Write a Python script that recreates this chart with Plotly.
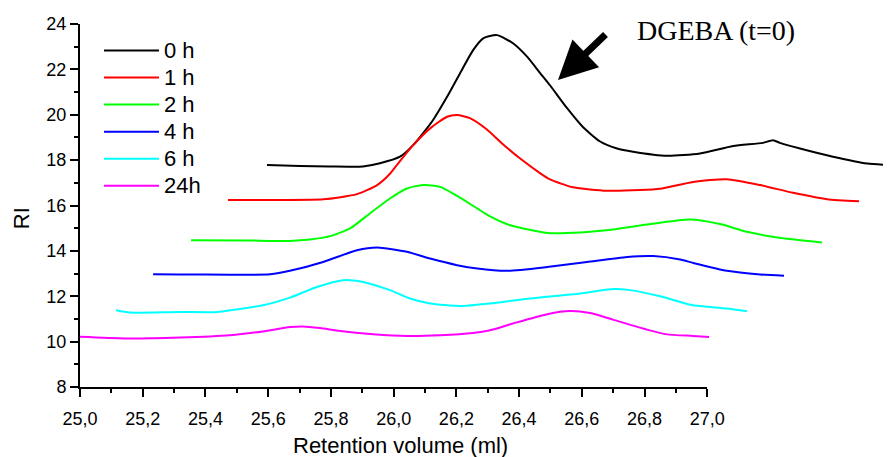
import plotly.graph_objects as go

# ---------------- data ----------------
series_names = ["0 h", "1 h", "2 h", "4 h", "6 h", "24h"]
series_colors = ["#000000", "#ff0000", "#00ff00", "#0000ff", "#00ffff", "#ff00ff"]

x_0h = [25.596, 25.701, 25.797, 25.902, 25.956, 26.020, 26.062, 26.093, 26.125, 26.170,
        26.211, 26.253, 26.285, 26.329, 26.380, 26.425, 26.466, 26.498, 26.552, 26.603,
        26.658, 26.712, 26.763, 26.871, 26.976, 27.082, 27.177, 27.209, 27.231, 27.295,
        27.400, 27.509, 27.585]
y_0h = [17.78, 17.74, 17.72, 17.72, 17.86, 18.15, 18.66, 19.18, 19.76, 20.79,
        21.82, 22.85, 23.37, 23.51, 23.15, 22.56, 21.85, 21.30, 20.30, 19.46,
        18.82, 18.51, 18.37, 18.19, 18.29, 18.62, 18.76, 18.88, 18.76, 18.51,
        18.15, 17.85, 17.78]

x_1h = [25.472, 25.638, 25.775, 25.883, 25.947, 25.988, 26.011, 26.062, 26.116, 26.170,
        26.202, 26.243, 26.297, 26.348, 26.403, 26.466, 26.498, 26.572, 26.680, 26.785,
        26.849, 26.954, 27.062, 27.168, 27.273, 27.381, 27.483]
y_1h = [16.24, 16.24, 16.27, 16.50, 16.90, 17.40, 17.80, 18.66, 19.40, 19.91,
        19.99, 19.85, 19.35, 18.70, 18.07, 17.43, 17.15, 16.80, 16.65, 16.68,
        16.74, 17.04, 17.16, 16.90, 16.56, 16.28, 16.19]

x_2h = [25.354, 25.530, 25.669, 25.733, 25.797, 25.861, 25.924, 25.988, 26.042, 26.093,
        26.148, 26.202, 26.266, 26.307, 26.371, 26.489, 26.594, 26.699, 26.807, 26.945,
        27.040, 27.126, 27.222, 27.365]
y_2h = [14.47, 14.46, 14.44, 14.50, 14.65, 14.99, 15.65, 16.31, 16.75, 16.90,
        16.82, 16.42, 15.87, 15.52, 15.13, 14.79, 14.81, 14.94, 15.16, 15.38,
        15.18, 14.84, 14.59, 14.37]

x_4h = [25.233, 25.319, 25.478, 25.606, 25.669, 25.775, 25.883, 25.947, 26.042, 26.116,
        26.202, 26.266, 26.361, 26.489, 26.616, 26.744, 26.827, 26.913, 26.954, 27.062,
        27.168, 27.244]
y_4h = [12.97, 12.96, 12.95, 12.97, 13.12, 13.51, 14.03, 14.15, 13.96, 13.66,
        13.37, 13.22, 13.12, 13.29, 13.51, 13.73, 13.77, 13.62, 13.47, 13.12,
        12.96, 12.90]

x_6h = [25.115, 25.159, 25.319, 25.430, 25.478, 25.583, 25.669, 25.755, 25.838, 25.902,
        25.988, 26.052, 26.116, 26.211, 26.307, 26.434, 26.594, 26.690, 26.753, 26.849,
        26.913, 26.954, 27.062, 27.126]
y_6h = [11.38, 11.28, 11.31, 11.30, 11.38, 11.60, 11.94, 12.41, 12.71, 12.63,
        12.27, 11.90, 11.68, 11.57, 11.68, 11.90, 12.12, 12.31, 12.27, 12.00,
        11.75, 11.60, 11.46, 11.34]

x_24h = [25.000, 25.143, 25.319, 25.478, 25.583, 25.669, 25.711, 25.765, 25.829, 25.934,
         26.042, 26.148, 26.253, 26.307, 26.380, 26.489, 26.562, 26.626, 26.699, 26.807,
         26.871, 26.954, 27.005]
y_24h = [10.21, 10.14, 10.18, 10.28, 10.45, 10.64, 10.67, 10.60, 10.47, 10.33,
         10.25, 10.28, 10.38, 10.50, 10.80, 11.21, 11.35, 11.26, 10.97, 10.53,
         10.32, 10.25, 10.20]

x_tick_vals = [25.0, 25.2, 25.4, 25.6, 25.8, 26.0, 26.2, 26.4, 26.6, 26.8, 27.0]
x_tick_text = ["25,0", "25,2", "25,4", "25,6", "25,8", "26,0", "26,2", "26,4", "26,6", "26,8", "27,0"]
y_tick_vals = [8, 10, 12, 14, 16, 18, 20, 22, 24]

x_data_range = [25.0, 27.585]   # full width the curves run over
x_axis_range = [25.0, 27.0]     # drawn axis
y_range = [8, 24]

# ---------------- figure ----------------
xs = [x_0h, x_1h, x_2h, x_4h, x_6h, x_24h]
ys = [y_0h, y_1h, y_2h, y_4h, y_6h, y_24h]

FONT = "Liberation Sans, Arial, sans-serif"

fig = go.Figure()
for name, color, xv, yv in zip(series_names, series_colors, xs, ys):
    fig.add_trace(go.Scatter(
        x=xv, y=yv, mode="lines",
        name='<span style="font-size:22px">' + name + "</span>",
        line=dict(color=color, width=2, shape="spline", smoothing=0.6),
        xaxis="x", yaxis="y",
    ))
# empty trace so that the visible (shorter) x axis gets drawn
fig.add_trace(go.Scatter(x=[], y=[], xaxis="x2", yaxis="y", showlegend=False, hoverinfo="skip"))

# the html page body has an 8px margin, so the figure is 8px smaller and margins shifted
PAGE_OFFSET = 8
axis_domain_end = (707.3 - 80) / 811

fig.update_layout(
    width=891 - PAGE_OFFSET, height=457 - PAGE_OFFSET,
    margin=dict(l=80 - PAGE_OFFSET, r=0, t=24 - PAGE_OFFSET, b=70, pad=0),
    paper_bgcolor="white", plot_bgcolor="rgba(0,0,0,0)",
    font=dict(family=FONT, color="black", size=18),
    xaxis=dict(domain=[0, 1], range=x_data_range, visible=False, fixedrange=True),
    xaxis2=dict(
        domain=[0, axis_domain_end], range=x_axis_range, anchor="y", automargin=False,
        showline=True, linecolor="black", linewidth=2,
        ticks="outside", ticklen=8, tickwidth=1.5, tickcolor="black",
        tickmode="array", tickvals=x_tick_vals, ticktext=x_tick_text,
        tickfont=dict(size=18, family=FONT), ticklabelstandoff=6,
        minor=dict(ticks="outside", ticklen=4, tickwidth=1.5, tickcolor="black",
                   dtick=0.1, tick0=25.0, showgrid=False),
        showgrid=False, zeroline=False,
    ),
    yaxis=dict(
        domain=[0, 1], range=y_range, anchor="x2", automargin=False,
        showline=True, linecolor="black", linewidth=2,
        ticks="outside", ticklen=8, tickwidth=1.5, tickcolor="black",
        tickmode="array", tickvals=y_tick_vals,
        tickfont=dict(size=18, family=FONT),
        minor=dict(ticks="outside", ticklen=4, tickwidth=1.5, tickcolor="black",
                   dtick=1, tick0=8, showgrid=False),
        showgrid=False, zeroline=False,
    ),
    legend=dict(
        x=0.0234, y=0.978, xanchor="left", yanchor="top",
        bgcolor="rgba(0,0,0,0)", borderwidth=0,
        font=dict(size=18.5, family=FONT), tracegroupgap=0, itemwidth=55,
    ),
    showlegend=True,
)

# axis titles (placed as in the reference)
fig.add_annotation(
    xref="paper", yref="paper", x=(400 - 80) / 811, y=(386.7 - 445) / 362.7,
    xanchor="center", yanchor="middle", showarrow=False,
    text="Retention volume (ml)", font=dict(size=22, family=FONT, color="black"),
)
fig.add_annotation(
    xref="paper", yref="paper", x=(21 - 80) / 811, y=(386.7 - 218) / 362.7,
    xanchor="center", yanchor="middle", showarrow=False, textangle=-90,
    text="RI", font=dict(size=22, family=FONT, color="black"),
)

fig.add_annotation(
    xref="paper", yref="paper", x=(558 - 80) / 811, y=(386.7 - 80) / 362.7,
    ax=49, ay=-47, axref="pixel", ayref="pixel",
    text="", showarrow=True, arrowhead=2, arrowsize=1.1, arrowwidth=7, arrowcolor="black",
)
fig.add_annotation(
    xref="paper", yref="paper", x=(716 - 80) / 811, y=(386.7 - 30) / 362.7,
    xanchor="center", yanchor="middle", showarrow=False,
    text="DGEBA (t=0)", font=dict(family="Liberation Serif, Times New Roman, serif", size=28, color="black"),
)

fig.write_html("out.html")
